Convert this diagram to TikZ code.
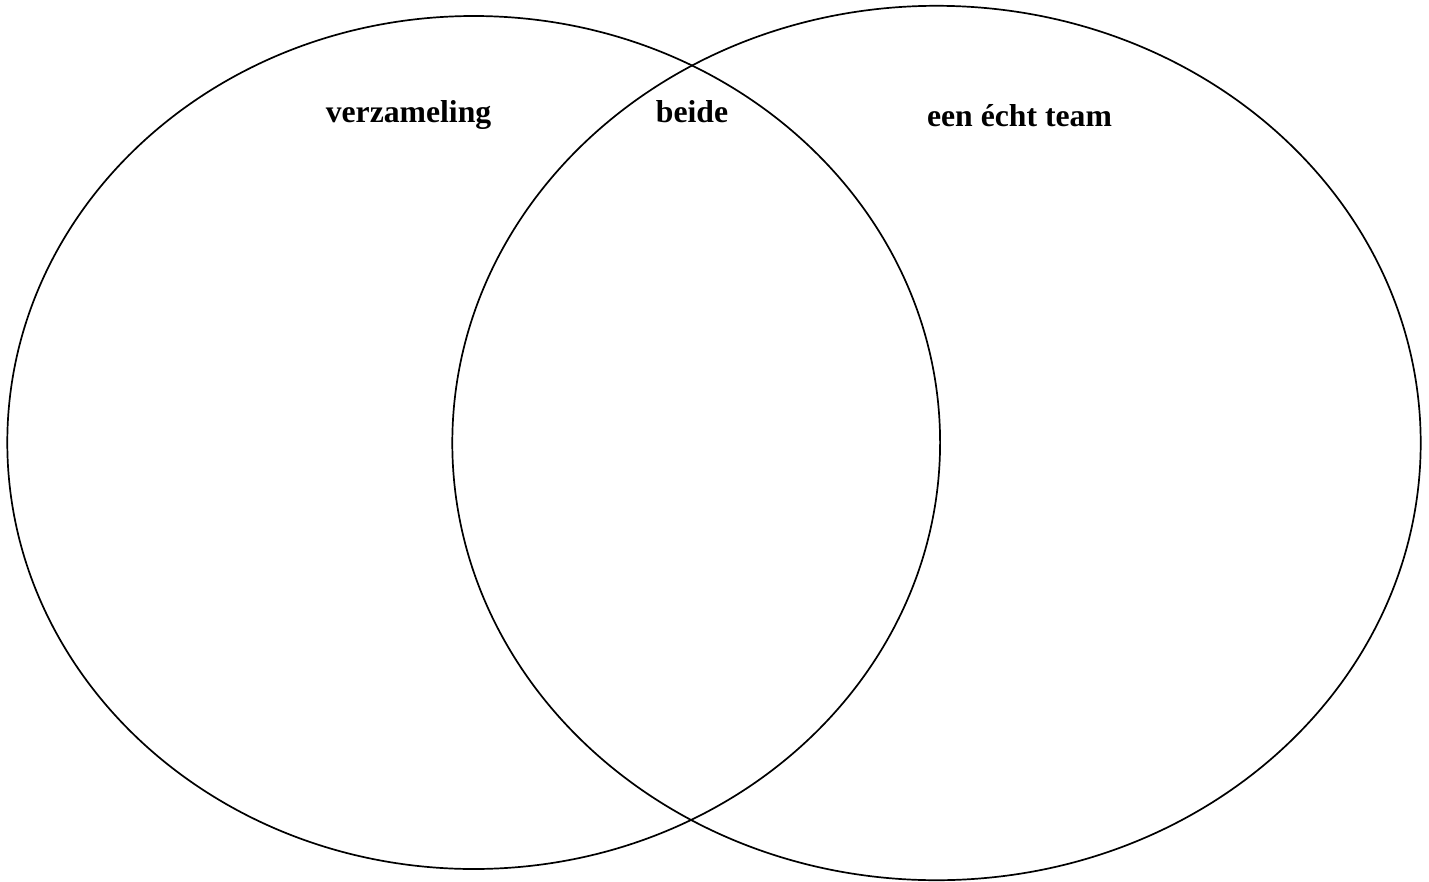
\documentclass[tikz,border=0pt]{standalone}
\usepackage{fontspec}
\setmainfont{Liberation Serif}
\begin{document}
\begin{tikzpicture}[x=1pt,y=-1pt,
  setline/.style={draw=black,line width=1.7pt},
  lbl/.style={inner sep=0pt,anchor=base,font=\fontsize{31.7}{38}\selectfont\bfseries}]
\useasboundingbox (0,0) rectangle (1429,881);
\draw[setline] (473.7,442.5) ellipse [x radius=466.4, y radius=426.5];
\draw[setline] (936.5,443) ellipse [x radius=484.2, y radius=437.2];
\node[lbl] (left) at (408.5,122.7) {verzameling};
\node[lbl] (mid) at (692,122.7) {beide};
\node[lbl] (right) at (1019.5,126.7) {een écht team};
\end{tikzpicture}
\end{document}
